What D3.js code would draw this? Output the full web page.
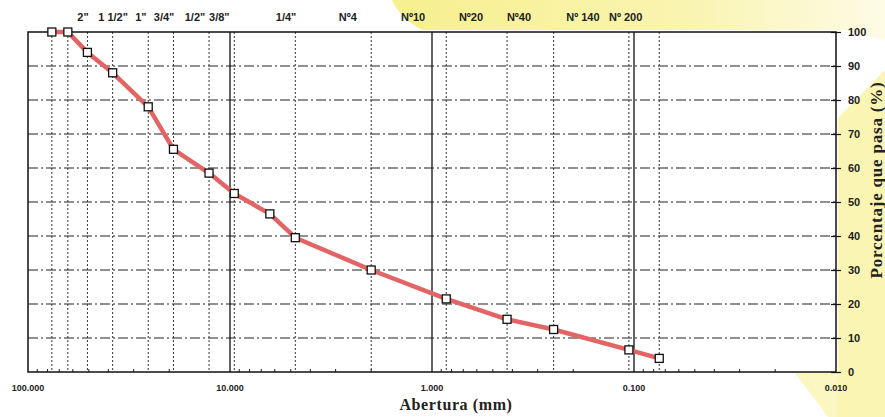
<!DOCTYPE html>
<html>
<head>
<meta charset="utf-8">
<script src="https://cdn.jsdelivr.net/npm/d3@7"></script>
<style>
  body { margin: 0; background: #fff; }
  svg { display: block; }
</style>
</head>
<body>
<svg id="chart" width="885" height="417"></svg>
<script>
// sieve openings (mm) and percent passing
const apertures = [76.2, 63.5, 50.8, 38.1, 25.4, 19.05, 12.7, 9.525, 6.35, 4.75, 2.0, 0.85, 0.425, 0.25, 0.106, 0.075];
const passing = [100, 100, 94, 88, 78, 65.5, 58.5, 52.5, 46.5, 39.5, 30, 21.5, 15.5, 12.5, 6.5, 4];

// dotted vertical guide lines (mm)
const sieveLines = [76.2, 63.5, 50.8, 38.1, 25.4, 19.05, 12.7, 9.525, 4.75, 2.0, 0.85, 0.425, 0.25, 0.106, 0.075];
const decadeLines = [10, 1, 0.1];

// sieve names along the top and where they sit on the aperture axis
const sieveNames = ['2"', '1 1/2"', '1"', '3/4"', '1/2"', '3/8"', '1/4"', 'Nº4', 'Nº10', 'Nº20', 'Nº40', 'Nº 140', 'Nº 200'];
const sieveNameAt = [53.4, 37.9, 27.6, 21.2, 14.9, 11.3, 5.28, 2.61, 1.24, 0.641, 0.371, 0.179, 0.110];

const xTicks = [100, 10, 1, 0.1, 0.01];
const xTickLabels = ["100.000", "10.000", "1.000", "0.100", "0.010"];
const yTicks = [0, 10, 20, 30, 40, 50, 60, 70, 80, 90, 100];

const svg = d3.select("#chart");
const pLeft = 28, pRight = 836, pTop = 32, pBottom = 372;

const x = d3.scaleLog().domain([100, 0.01]).range([pLeft, pRight]);
const y = d3.scaleLinear().domain([0, 100]).range([pBottom, pTop]);

// scanned yellow background shapes
const defs = svg.append("defs");
const grad = defs.append("linearGradient").attr("id", "yg")
  .attr("x1", "0").attr("y1", "0").attr("x2", "1").attr("y2", "0");
grad.append("stop").attr("offset", "0").attr("stop-color", "#f6ee82");
grad.append("stop").attr("offset", "0.6").attr("stop-color", "#f9f3a8");
grad.append("stop").attr("offset", "1").attr("stop-color", "#fdfbe2");

const yel = "#f9f3a6";
svg.append("path")
  .attr("d", "M392,0 L885,0 L885,40 L845,30 L422,30 Q400,18 392,0 Z")
  .attr("fill", "url(#yg)").attr("opacity", 0.9);
svg.append("path")
  .attr("d", "M885,70 L838,118 L838,417 L885,417 Z")
  .attr("fill", yel).attr("opacity", 0.85);
svg.append("path")
  .attr("d", "M795,373 L838,373 L838,417 L828,417 Z")
  .attr("fill", yel).attr("opacity", 0.7);

// plot area white
svg.append("rect")
  .attr("x", pLeft).attr("y", pTop)
  .attr("width", pRight - pLeft).attr("height", pBottom - pTop)
  .attr("fill", "#fff");

const g = svg.append("g");

// horizontal dash grid
g.selectAll(".hgrid")
  .data(yTicks.filter(d => d > 0 && d < 100))
  .enter().append("line")
  .attr("x1", pLeft).attr("x2", pRight)
  .attr("y1", d => y(d)).attr("y2", d => y(d))
  .attr("stroke", "#222").attr("stroke-width", 1.1)
  .attr("stroke-dasharray", "10,3,2,3");

// dotted sieve lines
g.selectAll(".vgrid")
  .data(sieveLines)
  .enter().append("line")
  .attr("x1", d => x(d)).attr("x2", d => x(d))
  .attr("y1", pTop).attr("y2", pBottom)
  .attr("stroke", "#333").attr("stroke-width", 1)
  .attr("stroke-dasharray", "2,2");

// solid decade lines
g.selectAll(".dec")
  .data(decadeLines)
  .enter().append("line")
  .attr("x1", d => x(d)).attr("x2", d => x(d))
  .attr("y1", pTop).attr("y2", pBottom)
  .attr("stroke", "#111").attr("stroke-width", 1.3);

// minor ticks on the bottom axis
const minor = [];
[100, 10, 1, 0.1].forEach(dec => {
  for (let k = 2; k <= 9; k++) minor.push(dec / 10 * k);
});
g.selectAll(".minor")
  .data(minor)
  .enter().append("line")
  .attr("x1", d => x(d)).attr("x2", d => x(d))
  .attr("y1", pBottom).attr("y2", pBottom - 3)
  .attr("stroke", "#222").attr("stroke-width", 1);

// frame
g.append("rect")
  .attr("x", pLeft).attr("y", pTop)
  .attr("width", pRight - pLeft).attr("height", pBottom - pTop)
  .attr("fill", "none").attr("stroke", "#111").attr("stroke-width", 1.5);

// right axis
const yAxis = svg.append("g")
  .attr("transform", `translate(${pRight},0)`)
  .call(d3.axisRight(y).tickValues(yTicks).tickSize(5).tickPadding(7));
yAxis.select(".domain").remove();
yAxis.selectAll(".tick line").attr("x1", -5).attr("stroke", "#111").attr("stroke-width", 1.2);
yAxis.selectAll(".tick text")
  .attr("font-family", "Liberation Sans, Arial, sans-serif")
  .attr("font-weight", "bold").attr("font-size", 11).attr("fill", "#222");

// bottom tick labels
svg.selectAll(".xlab")
  .data(xTicks)
  .enter().append("text")
  .attr("x", d => x(d)).attr("y", 391)
  .attr("text-anchor", "middle")
  .attr("font-family", "Liberation Sans, Arial, sans-serif")
  .attr("font-weight", "bold").attr("font-size", 9).attr("fill", "#222")
  .text((d, i) => xTickLabels[i]);

// sieve names on top
svg.selectAll(".sname")
  .data(sieveNames)
  .enter().append("text")
  .attr("x", (d, i) => x(sieveNameAt[i])).attr("y", 21)
  .attr("text-anchor", "middle")
  .attr("font-family", "Liberation Sans, Arial, sans-serif")
  .attr("font-weight", "bold").attr("font-size", 11).attr("fill", "#222")
  .text(d => d);

// curve
const pts = apertures.map((a, i) => ({ a: a, p: passing[i] }));
const line = d3.line().x(d => x(d.a)).y(d => y(d.p));
svg.append("path")
  .datum(pts)
  .attr("d", line)
  .attr("fill", "none")
  .attr("stroke", "#e36464").attr("stroke-width", 4.5)
  .attr("stroke-linejoin", "round");

svg.selectAll(".mk")
  .data(pts)
  .enter().append("rect")
  .attr("x", d => x(d.a) - 4).attr("y", d => y(d.p) - 4)
  .attr("width", 8).attr("height", 8)
  .attr("fill", "#fff").attr("stroke", "#111").attr("stroke-width", 1.3);

// axis titles
svg.append("text")
  .attr("x", 456).attr("y", 410)
  .attr("text-anchor", "middle")
  .attr("font-family", "Liberation Serif, Times New Roman, serif")
  .attr("font-weight", "bold").attr("font-size", 16)
  .attr("letter-spacing", 0.6).attr("fill", "#222")
  .text("Abertura (mm)");

svg.append("text")
  .attr("transform", "translate(882,180) rotate(-90)")
  .attr("text-anchor", "middle")
  .attr("font-family", "Liberation Serif, Times New Roman, serif")
  .attr("font-weight", "bold").attr("font-size", 17)
  .attr("letter-spacing", 0.8).attr("fill", "#222")
  .text("Porcentaje que pasa (%)");
</script>
</body>
</html>
